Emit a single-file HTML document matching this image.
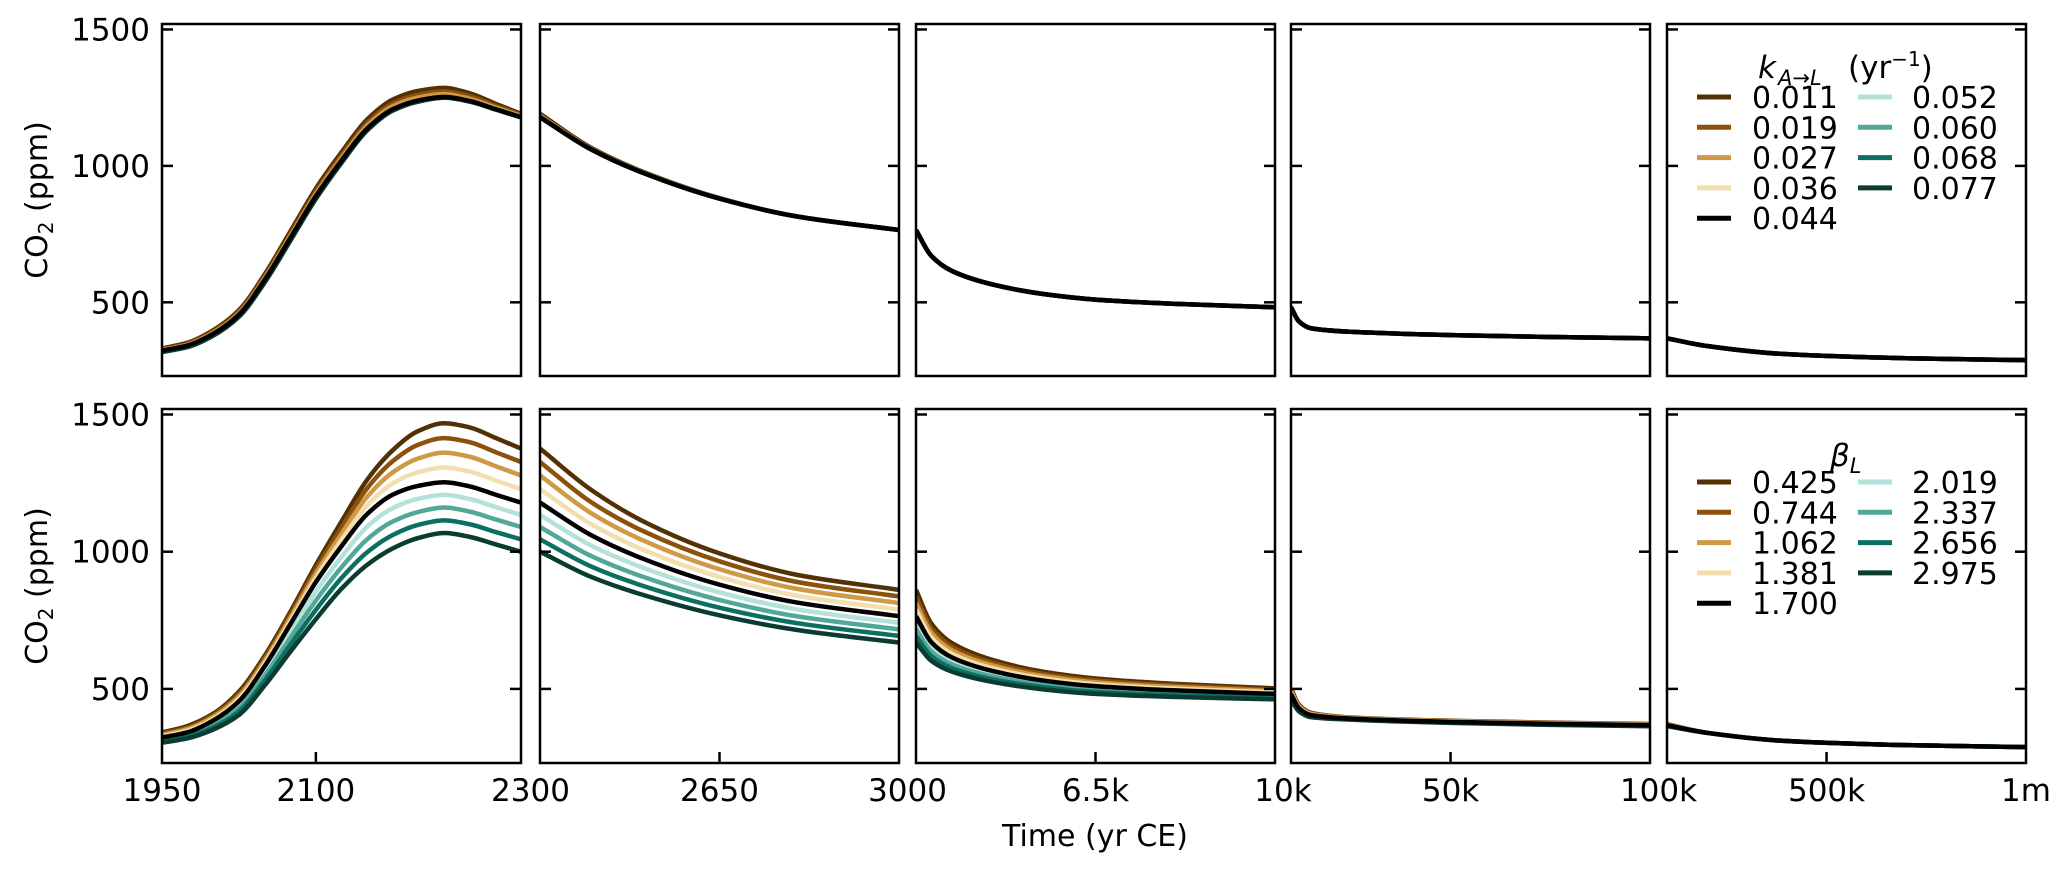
<!DOCTYPE html>
<html><head><meta charset="utf-8"><style>
html,body{margin:0;padding:0;background:#fff;}
svg{display:block;font-family:"DejaVu Sans","Liberation Sans",sans-serif;}
</style></head><body>
<svg id="chart" width="2067" height="872" viewBox="0 0 2067 872" xmlns="http://www.w3.org/2000/svg"></svg>
<script>
const times = [1950,1975,2000,2025,2050,2075,2100,2125,2150,2175,2200,2225,2250,2275,2300,2400,2500,2650,2800,3000,3300,3700,4500,5500,6500,8000,10000,12000,15000,25000,50000,75000,100000,200000,400000,700000,1000000];
const kLabels = ["0.011","0.019","0.027","0.036","0.044","0.052","0.060","0.068","0.077"];
const betaLabels = ["0.425","0.744","1.062","1.381","1.700","2.019","2.337","2.656","2.975"];
const colors = ["#543005","#8c510a","#cf9a45","#f3deae","#000000","#b2e2d9","#52a898","#0d6e62","#0b3c31"];
const topS0 = [331,352,398,471,602,759,917,1050,1170,1243,1275,1286,1266,1228,1191,1066,979,882,815,765,670,615,565,530,510,495,482,430,405,392,380,373,368,340,310,295,288];
const topS1 = [328,348,393,465,594,749,906,1038,1157,1229,1261,1273,1255,1220,1186,1063,977,881,815,765,670,615,565,530,510,495,482,430,405,392,380,373,368,340,310,295,288];
const topS2 = [325,345,389,460,588,742,897,1029,1147,1219,1251,1263,1246,1214,1183,1061,976,880,815,765,670,615,565,530,510,495,482,430,405,392,380,373,368,340,310,295,288];
const topS3 = [323,342,385,455,582,735,889,1020,1137,1208,1240,1253,1238,1208,1179,1060,975,880,815,765,670,615,565,530,510,495,482,430,405,392,380,373,368,340,310,295,288];
const topS4 = [323,342,385,455,582,735,889,1020,1137,1208,1240,1253,1238,1208,1179,1060,975,880,815,765,670,615,565,530,510,495,482,430,405,392,380,373,368,340,310,295,288];
const topS5 = [321,339,381,450,576,729,883,1015,1133,1205,1238,1252,1237,1208,1179,1060,975,880,815,765,670,615,565,530,510,495,482,430,405,392,380,373,368,340,310,295,288];
const topS6 = [320,338,380,449,574,727,881,1013,1131,1204,1237,1251,1237,1208,1179,1060,975,880,815,765,670,615,565,530,510,495,482,430,405,392,380,373,368,340,310,295,288];
const topS7 = [319,337,379,448,573,726,880,1012,1130,1203,1236,1250,1236,1207,1178,1060,975,880,815,765,670,615,565,530,510,495,482,430,405,392,380,373,368,340,310,295,288];
const topS8 = [318,336,378,447,572,725,879,1011,1130,1203,1236,1250,1236,1207,1178,1060,975,880,815,765,670,615,565,530,510,495,482,430,405,392,380,373,368,340,310,295,288];
const botS0 = [341,365,410,490,620,780,951,1110,1262,1370,1440,1468,1453,1415,1376,1225,1112,994,916,861,738,667,605,562,538,519,502,442,413,396,384,377,372,340,310,295,288];
const botS1 = [337,359,404,481,611,769,936,1088,1231,1330,1390,1414,1399,1363,1327,1180,1076,965,890,837,721,654,595,554,531,513,497,439,411,395,383,376,371,340,310,295,288];
const botS2 = [332,354,398,473,601,758,920,1065,1200,1289,1340,1361,1346,1312,1278,1140,1042,936,865,813,704,641,585,546,524,507,492,436,409,394,382,375,370,340,310,295,288];
const botS3 = [328,348,391,464,592,746,905,1043,1168,1249,1290,1307,1292,1260,1228,1100,1008,908,840,789,687,628,575,538,517,501,487,433,407,393,381,374,369,340,310,295,288];
const botS4 = [323,342,385,455,582,735,889,1020,1137,1208,1240,1253,1238,1208,1179,1060,975,880,815,765,670,615,565,530,510,495,482,430,405,392,380,373,368,340,310,295,288];
const botS5 = [318,337,377,443,565,710,855,981,1091,1159,1193,1207,1192,1163,1134,1022,942,852,790,741,653,602,555,522,503,489,477,427,403,391,379,372,367,340,310,295,288];
const botS6 = [314,331,369,430,547,685,822,943,1045,1110,1145,1161,1146,1118,1090,984,909,824,765,717,636,589,545,514,496,483,472,424,401,390,378,371,366,340,310,295,288];
const botS7 = [309,326,360,418,530,660,788,904,998,1061,1098,1114,1100,1072,1045,946,876,796,740,693,619,576,535,506,489,477,467,421,399,389,377,370,365,340,310,295,288];
const botS8 = [304,320,352,405,512,635,754,865,952,1012,1050,1068,1054,1027,1000,908,843,768,715,669,602,563,525,498,482,471,462,418,397,388,376,369,364,340,310,295,288];
const panelRanges = [[1950,2300],[2300,3000],[3000,10000],[10000,100000],[100000,1000000]];
const xTickVals = [1950,2100,2300,2650,3000,6500,10000,50000,100000,500000,1000000];
const xTickLabels = ["1950","2100","2300","2650","3000","6.5k","10k","50k","100k","500k","1m"];
const yTicks = [500,1000,1500];

const NS="http://www.w3.org/2000/svg";
const svg=document.getElementById('chart');
const lefts=[162,540,916,1291,1667], PW=359;
const rows=[{y0:24,y1:376},{y0:409,y1:763}];
const YMIN=230,YMAX=1520;
function mk(tag,attrs,parent){const e=document.createElementNS(NS,tag);for(const k in attrs)e.setAttribute(k,attrs[k]);(parent||svg).appendChild(e);return e;}
function xs(p,t){const r=panelRanges[p];return lefts[p]+(t-r[0])/(r[1]-r[0])*PW;}
function ys(r,v){const R=rows[r];return R.y1-(v-YMIN)/(YMAX-YMIN)*(R.y1-R.y0);}
// monotone cubic (Fritsch-Carlson) path
function pathFrom(pts){
  const n=pts.length;
  if(n<2)return "";
  const dx=[],dy=[],m=[];
  for(let i=0;i<n-1;i++){dx.push(pts[i+1][0]-pts[i][0]);dy.push(pts[i+1][1]-pts[i][1]);m.push(dy[i]/dx[i]);}
  const t=[m[0]];
  for(let i=1;i<n-1;i++){
    if(m[i-1]*m[i]<=0)t.push(0);
    else{const w1=2*dx[i]+dx[i-1],w2=dx[i]+2*dx[i-1];t.push((w1+w2)/(w1/m[i-1]+w2/m[i]));}
  }
  t.push(m[n-2]);
  let d="M"+pts[0][0].toFixed(2)+","+pts[0][1].toFixed(2);
  for(let i=0;i<n-1;i++){
    const h=dx[i]/3;
    d+="C"+(pts[i][0]+h).toFixed(2)+","+(pts[i][1]+t[i]*h).toFixed(2)+" "+(pts[i+1][0]-h).toFixed(2)+","+(pts[i+1][1]-t[i+1]*h).toFixed(2)+" "+pts[i+1][0].toFixed(2)+","+pts[i+1][1].toFixed(2);
  }
  return d;
}
const topSeries=[topS0,topS1,topS2,topS3,topS4,topS5,topS6,topS7,topS8];
const botSeries=[botS0,botS1,botS2,botS3,botS4,botS5,botS6,botS7,botS8];
const order=[0,1,2,3,5,6,7,8,4];
[topSeries,botSeries].forEach((series,r)=>{
  for(let p=0;p<5;p++){
    const g=mk('g',{'clip-path':'url(#clip'+r+'_'+p+')'});
    
    
    const cp=mk('clipPath',{id:'clip'+r+'_'+p});
    mk('rect',{x:lefts[p],y:rows[r].y0,width:PW,height:rows[r].y1-rows[r].y0},cp);
    const rg=panelRanges[p];
    order.forEach(si=>{
      const pts=[];
      times.forEach((t,i)=>{if(t>=rg[0]&&t<=rg[1])pts.push([xs(p,t),ys(r,series[si][i])]);});
      const path=mk('path',{d:pathFrom(pts),fill:'none',stroke:colors[si],'stroke-width':4.5,'stroke-linejoin':'round'},g);
      
      
    });
    const fr=mk('rect',{x:lefts[p],y:rows[r].y0,width:PW,height:rows[r].y1-rows[r].y0,fill:'none',stroke:'#000','stroke-width':2.5});
    
    
    yTicks.forEach(v=>{
      const y=ys(r,v);
      mk('line',{x1:lefts[p],x2:lefts[p]+11,y1:y,y2:y,stroke:'#000','stroke-width':2.5});
      mk('line',{x1:lefts[p]+PW-11,x2:lefts[p]+PW,y1:y,y2:y,stroke:'#000','stroke-width':2.5});
    });
    if(r===1){
      xTickVals.forEach(v=>{
        if(v>rg[0]&&v<rg[1]){const x=xs(p,v);mk('line',{x1:x,x2:x,y1:rows[1].y1,y2:rows[1].y1-11,stroke:'#000','stroke-width':2.5});}
      });
    }
  }
  yTicks.forEach(v=>{
    const t=mk('text',{x:150,y:ys(r,v)+11,'text-anchor':'end','font-size':31});
    t.textContent=v;
    
    
  });
  const yl=mk('text',{x:0,y:0,'text-anchor':'middle','font-size':30,transform:'translate(47,'+((rows[r].y0+rows[r].y1)/2)+') rotate(-90)'});
  yl.innerHTML='CO<tspan font-size="20" dy="6">2</tspan><tspan dy="-6"> (ppm)</tspan>';
  
  
});
xTickVals.forEach((v,i)=>{
  let x;
  for(let p=0;p<5;p++){const rg=panelRanges[p];if(v>=rg[0]&&v<=rg[1]){x=xs(p,v);if(v===rg[1]&&p<4)x=(x+lefts[p+1])/2;break;}}
  const t=mk('text',{x:x,y:801,'text-anchor':'middle','font-size':31});
  t.textContent=xTickLabels[i];
  
  
});
const xt=mk('text',{x:1095,y:846,'text-anchor':'middle','font-size':30});
xt.textContent='Time (yr CE)';


function legend(r,labels,titleHTML,name){
  const off=r?0:-385;
  const g=mk('g',{});
  
  
  const tt=mk('text',{x:0,y:(r?466:78),'font-size':31},g);
  tt.innerHTML=titleHTML;
  
  
  labels.forEach((lb,i)=>{
    const col=i<5?0:1, row=i<5?i:i-5;
    const lx=col?1858:1697, tx=col?1912:1752, y=482+off+row*30.3;
    const ln=mk('line',{x1:lx,x2:lx+34,y1:y,y2:y,stroke:colors[i],'stroke-width':5},g);
    
    
    const t=mk('text',{x:tx,y:y+11,'font-size':30},g);
    t.textContent=lb;
    
    
  });
}
legend(0,kLabels,'<tspan x="1758" font-style="italic">k</tspan><tspan x="1778" font-style="italic" font-size="21" dy="7">A→L</tspan><tspan x="1848" dy="-7">(yr</tspan><tspan font-size="20" dy="-12">−1</tspan><tspan dy="12">)</tspan>','legend-k');
legend(1,betaLabels,'<tspan x="1830" font-style="italic">β</tspan><tspan font-style="italic" font-size="21" dy="7">L</tspan>','legend-beta');
</script>
</body></html>
